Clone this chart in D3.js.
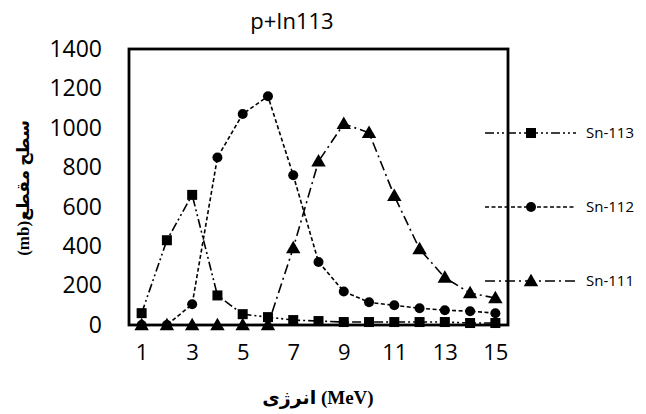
<!DOCTYPE html>
<html>
<head>
<meta charset="utf-8">
<script src="https://cdn.jsdelivr.net/npm/d3@7"></script>
<style>
body { margin: 0; background: #fff; }
</style>
</head>
<body>
<div id="chart"></div>
<script>
// energies (MeV) and cross sections (mb)
const energies = [1, 2, 3, 4, 5, 6, 7, 8, 9, 10, 11, 12, 13, 14, 15];
const sn113 = [60, 430, 660, 150, 55, 40, 25, 20, 15, 15, 15, 15, 15, 10, 10];
const sn112 = [0, 0, 105, 850, 1070, 1160, 760, 320, 170, 115, 100, 85, 75, 70, 60];
const sn111 = [0, 0, 0, 0, 0, 0, 390, 830, 1020, 975, 655, 385, 240, 162, 137];
const yTicks = [0, 200, 400, 600, 800, 1000, 1200, 1400];
const xTickLabels = [1, 3, 5, 7, 9, 11, 13, 15];

const series = [
  { name: "Sn-113", values: sn113, dash: "9,3,2,3,2,3", marker: "square", legendY: 133 },
  { name: "Sn-112", values: sn112, dash: "4,2.5", marker: "circle", legendY: 207 },
  { name: "Sn-111", values: sn111, dash: "10,4,2,4", marker: "triangle", legendY: 281 }
];

const W = 646, H = 414;
const plot = { left: 129, right: 508, top: 49, bottom: 325 };

const svg = d3.select("#chart")
  .append("svg")
  .attr("width", W)
  .attr("height", H);

const x = d3.scalePoint()
  .domain(energies)
  .range([plot.left, plot.right])
  .padding(0.5);

const y = d3.scaleLinear()
  .domain([0, 1400])
  .range([plot.bottom, plot.top]);

// Title
svg.append("text")
  .attr("x", 292)
  .attr("y", 29)
  .attr("text-anchor", "middle")
  .style("font-family", "Open Sans")
  .style("font-size", "22px")
  .text("p+In113");

// Y axis labels
const yAxis = svg.append("g")
  .attr("transform", `translate(${plot.left},0)`)
  .call(d3.axisLeft(y).tickValues(yTicks).tickFormat(d3.format("d")).tickSize(0).tickPadding(27));
yAxis.select(".domain").remove();
yAxis.selectAll("text")
  .style("font-family", "Open Sans")
  .style("font-size", "23px")
  .attr("fill", "#000");

// X axis labels
const xAxis = svg.append("g")
  .attr("transform", `translate(0,${plot.bottom})`)
  .call(d3.axisBottom(x).tickValues(xTickLabels).tickSize(0).tickPadding(19));
xAxis.select(".domain").remove();
xAxis.selectAll("text")
  .style("font-family", "Open Sans")
  .style("font-size", "22px")
  .attr("fill", "#000");

// Plot frame
svg.append("rect")
  .attr("x", plot.left)
  .attr("y", plot.top)
  .attr("width", plot.right - plot.left)
  .attr("height", plot.bottom - plot.top)
  .attr("fill", "none")
  .attr("stroke", "#000")
  .attr("stroke-width", 2.8);

// Axis titles
svg.append("text")
  .attr("transform", "translate(29,188) rotate(-90)")
  .attr("text-anchor", "middle")
  .style("direction", "rtl")
  .style("font-family", "Liberation Serif, DejaVu Sans")
  .style("font-weight", "bold")
  .style("font-size", "17px")
  .text("سطح مقطع(mb)");

svg.append("text")
  .attr("x", 318)
  .attr("y", 404)
  .attr("text-anchor", "middle")
  .style("font-family", "Liberation Serif, DejaVu Sans")
  .style("font-weight", "bold")
  .style("font-size", "19px")
  .text("انرژی (MeV)");

function drawMarker(g, type, cx, cy) {
  if (type === "square") {
    g.append("rect")
      .attr("x", cx - 5).attr("y", cy - 5)
      .attr("width", 10).attr("height", 10)
      .attr("fill", "#000");
  } else if (type === "circle") {
    g.append("circle")
      .attr("cx", cx).attr("cy", cy).attr("r", 5)
      .attr("fill", "#000");
  } else {
    g.append("path")
      .attr("d", d3.symbol(d3.symbolTriangle, 90)())
      .attr("transform", `translate(${cx},${cy + 1})`)
      .attr("fill", "#000");
  }
}

const line = d3.line()
  .x((d, i) => x(energies[i]))
  .y(d => y(d));

series.forEach(s => {
  const g = svg.append("g");
  g.append("path")
    .datum(s.values)
    .attr("fill", "none")
    .attr("stroke", "#000")
    .attr("stroke-width", 1.6)
    .attr("stroke-dasharray", s.dash)
    .attr("d", line);
  s.values.forEach((v, i) => drawMarker(g, s.marker, x(energies[i]), y(v)));

  // legend entry
  const lg = svg.append("g");
  lg.append("line")
    .attr("x1", 485).attr("x2", 576)
    .attr("y1", s.legendY).attr("y2", s.legendY)
    .attr("stroke", "#000")
    .attr("stroke-width", 1.6)
    .attr("stroke-dasharray", s.dash);
  drawMarker(lg, s.marker, 531, s.legendY);
  lg.append("text")
    .attr("x", 586)
    .attr("y", s.legendY)
    .attr("dy", "0.35em")
    .style("font-family", "Open Sans")
    .style("font-size", "15px")
    .text(s.name);
});
</script>
</body>
</html>
